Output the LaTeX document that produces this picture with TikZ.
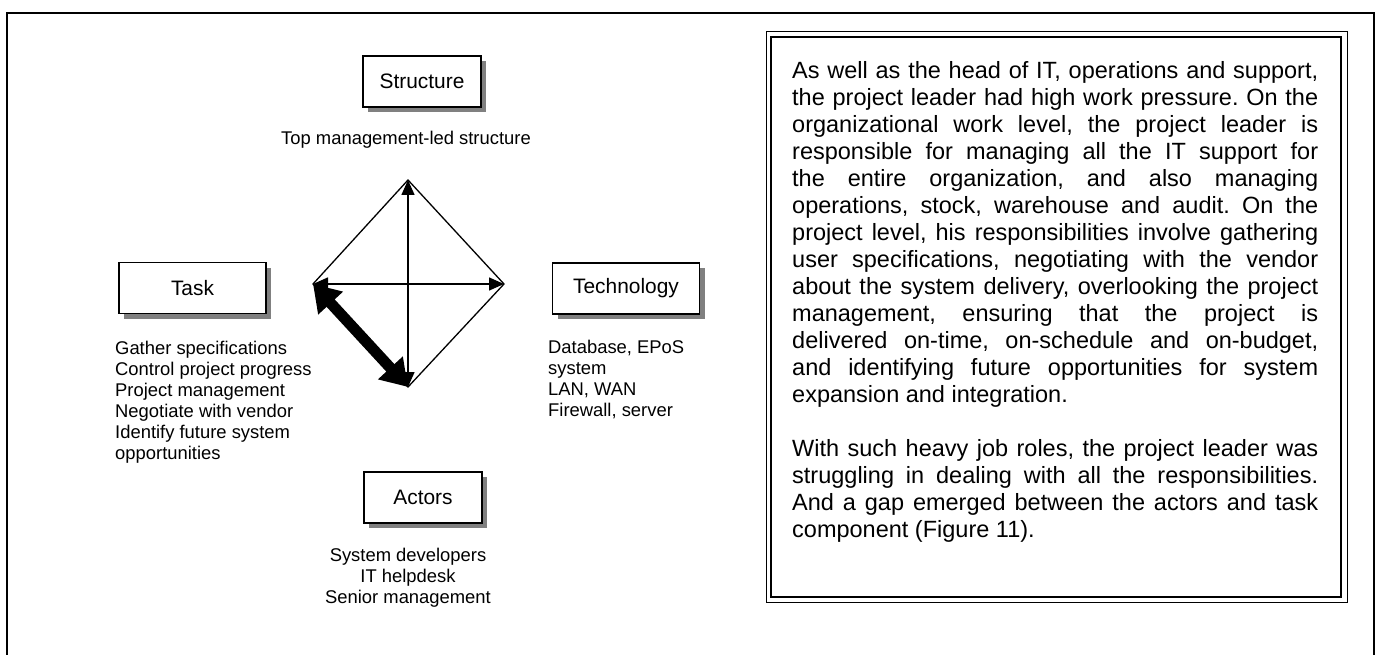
\documentclass[tikz,border=0pt]{standalone}
\usepackage{fontspec}
\setmainfont{Liberation Sans}
\usetikzlibrary{arrows.meta,shadows}
\definecolor{shadowgray}{rgb}{0.5,0.5,0.5}
\setlength{\parindent}{0pt}
\hbadness=10000
\frenchspacing

\begin{document}
\begin{tikzpicture}[x=1pt,y=-1pt,
	comp/.style={draw, line width=1.3pt, fill=white, minimum width=147pt, minimum height=51pt,
		font=\fontsize{20.9}{24}\selectfont,
		drop shadow={shadow xshift=5pt, shadow yshift=-5pt, fill=shadowgray, opacity=1}},
	info/.style={font=\fontsize{18.4}{21}\selectfont, inner sep=0pt},
	link/.style={line width=1.5pt, {Triangle[length=15pt,width=13pt]}-{Triangle[length=15pt,width=13pt]}},
	gap/.style={line width=11pt, {Triangle[length=26pt,width=32pt]}-{Triangle[length=26pt,width=32pt]}},
	story/.style={text width=526pt, align=justify, inner sep=0pt, font=\fontsize{23.5}{27}\selectfont}]
			\useasboundingbox (0,0) rectangle (1376,655);
			%Moldura
			\draw[line width=2pt] (7,656) -- (7,13) -- (1374,13) -- (1374,656);
			
			%Componentes
			\node[comp, minimum width=118pt] (structure) at (422,81.5) {Structure};
			\node[comp] (task) at (192.5,288) {Task};
			\node[comp] (technology) at (626,288.5) {Technology};
			\node[comp, minimum width=118pt] (actors) at (423,497.5) {Actors};
			
			%Descricoes
			\node[info, anchor=north, align=center] (structinfo) at (406,131) {Top management-led structure};
			\node[info, anchor=north west, align=left] (taskinfo) at (115,341) {Gather specifications\\Control project progress\\Project management\\Negotiate with vendor\\Identify future system\\opportunities};
			\node[info, anchor=north west, align=left] (techinfo) at (548,340) {Database, EPoS\\system\\LAN, WAN\\Firewall, server};
			\node[info, anchor=north, align=center] (actorinfo) at (408,548) {System developers\\IT helpdesk\\Senior management};
			
			%Losango
			\coordinate (dtop) at (408,180);
			\coordinate (dleft) at (313,284);
			\coordinate (dright) at (504,284);
			\coordinate (dbottom) at (408,387);
			\draw[line width=1.3pt] (dtop) -- (dright) -- (dbottom) -- (dleft) -- cycle;
			\draw[link] (dbottom) -- (dtop);
			\draw[link] (dleft) -- (dright);
			\draw[gap] (dleft) -- (dbottom); %lacuna
			
			%Texto
			\draw[line width=1pt] (766,32) rectangle (1347,602);
			\draw[line width=2.2pt] (771,37) rectangle (1341,597);
			\node[story, anchor=north west] (case) at (792,61.5) {As well as the head of IT, operations and support,\linebreak
the project leader had high work pressure. On the\linebreak
organizational work level, the project leader is\linebreak
responsible for managing all the IT support for\linebreak
the entire organization, and also managing\linebreak
operations, stock, warehouse and audit. On the\linebreak
project level, his responsibilities involve gathering\linebreak
user specifications, negotiating with the vendor\linebreak
about the system delivery, overlooking the project\linebreak
management, ensuring that the project is\linebreak
delivered on-time, on-schedule and on-budget,\linebreak
and identifying future opportunities for system\linebreak
expansion and integration.\par\vspace{27pt}
With such heavy job roles, the project leader was\linebreak
struggling in dealing with all the responsibilities.\linebreak
And a gap emerged between the actors and task\linebreak
component (Figure 11).};
			
\end{tikzpicture}
\end{document}
